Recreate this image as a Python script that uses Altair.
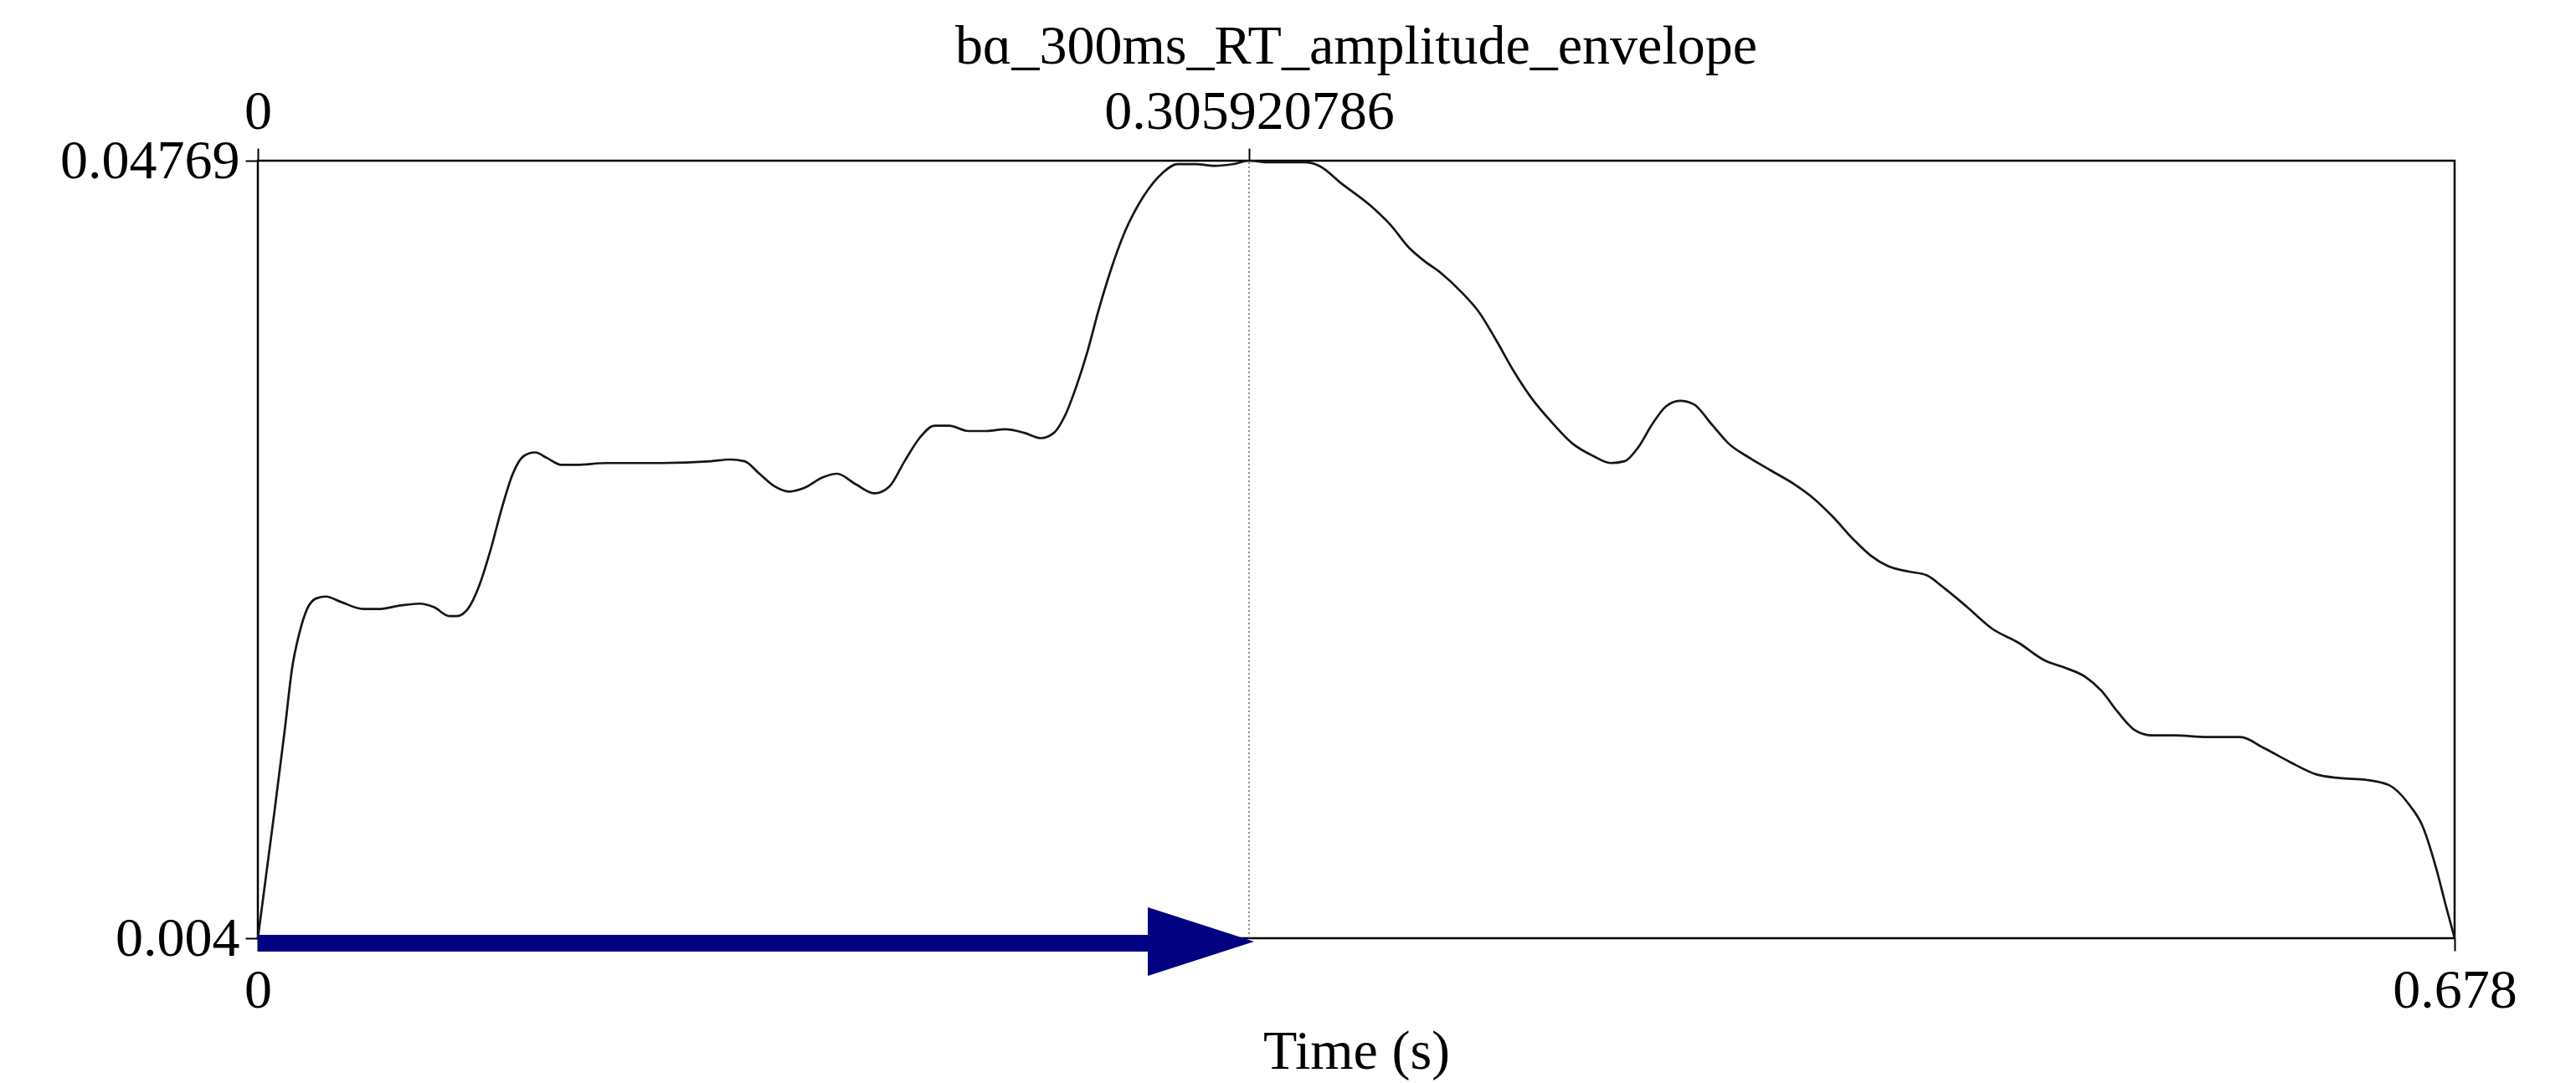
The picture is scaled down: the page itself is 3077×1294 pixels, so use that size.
import altair as alt
import pandas as pd

TITLE = "bɑ_300ms_RT_amplitude_envelope"
X_TITLE = "Time (s)"
x_min, x_max = 0.0, 0.678
y_min, y_max = 0.004, 0.04769
peak_time = 0.305920786
shaft_end = 0.275

times = [0.0, 0.0049, 0.0083, 0.0106, 0.0129, 0.0152, 0.0181, 0.0210, 0.0256, 0.0325,
         0.0372, 0.0441, 0.0498, 0.0544, 0.0591, 0.0614, 0.0648, 0.0683, 0.0718, 0.0752,
         0.0787, 0.0821, 0.0856, 0.0891, 0.0937, 0.0983, 0.1075, 0.1248, 0.1398, 0.1456,
         0.1502, 0.1548, 0.1594, 0.1640, 0.1686, 0.1744, 0.1788, 0.1846, 0.1903, 0.1950,
         0.1996, 0.2042, 0.2088, 0.2134, 0.2192, 0.2250, 0.2307, 0.2365, 0.2417, 0.2457,
         0.2492, 0.2526, 0.2561, 0.2595, 0.2630, 0.2676, 0.2734, 0.2792, 0.2838, 0.2895,
         0.2953, 0.3011, 0.3059, 0.3115, 0.3172, 0.3230, 0.3276, 0.3345, 0.3438, 0.3495,
         0.3553, 0.3597, 0.3650, 0.3715, 0.3768, 0.3822, 0.3875, 0.3929, 0.3993, 0.4057,
         0.4121, 0.4175, 0.4218, 0.4261, 0.4304, 0.4347, 0.4389, 0.4432, 0.4486, 0.4539,
         0.4603, 0.4668, 0.4743, 0.4796, 0.4860, 0.4925, 0.4978, 0.5032, 0.5096, 0.5150,
         0.5203, 0.5276, 0.5352, 0.5434, 0.5516, 0.5577, 0.5639, 0.5690, 0.5741, 0.5792,
         0.5843, 0.5914, 0.6017, 0.6119, 0.6190, 0.6272, 0.6354, 0.6425, 0.6507, 0.6578,
         0.6640, 0.6681, 0.6722, 0.6752, 0.678]

amps = [0.0040, 0.0108, 0.0157, 0.0192, 0.0212, 0.0225, 0.0231, 0.0232, 0.0229, 0.0225,
        0.0225, 0.0227, 0.0228, 0.0226, 0.0221, 0.0221, 0.0225, 0.0238, 0.0258, 0.0281,
        0.0301, 0.0311, 0.0313, 0.0310, 0.0306, 0.0306, 0.0307, 0.0307, 0.0308, 0.0309,
        0.0308, 0.0301, 0.0294, 0.0291, 0.0293, 0.0299, 0.0301, 0.0295, 0.0290, 0.0294,
        0.0308, 0.0321, 0.0328, 0.0328, 0.0325, 0.0325, 0.0326, 0.0324, 0.0321, 0.0324,
        0.0334, 0.0350, 0.0370, 0.0393, 0.0414, 0.0437, 0.0457, 0.0470, 0.0475, 0.0475,
        0.0474, 0.0475, 0.04769, 0.0476, 0.0476, 0.0476, 0.0474, 0.0464, 0.0451, 0.0441,
        0.0428, 0.0421, 0.0414, 0.0403, 0.0392, 0.0376, 0.0359, 0.0344, 0.0330, 0.0318,
        0.0311, 0.0307, 0.0308, 0.0316, 0.0329, 0.0339, 0.0342, 0.0340, 0.0329, 0.0318,
        0.0310, 0.0303, 0.0295, 0.0288, 0.0277, 0.0264, 0.0255, 0.0249, 0.0246, 0.0244,
        0.0237, 0.0226, 0.0214, 0.0206, 0.0196, 0.0192, 0.0187, 0.0179, 0.0167, 0.0157,
        0.0154, 0.0154, 0.0153, 0.0153, 0.0147, 0.0139, 0.0132, 0.0130, 0.0129, 0.0126,
        0.0115, 0.0103, 0.0080, 0.0059, 0.0040]

bottom_ticks = [x_min, x_max]
top_ticks = [x_min, peak_time]
left_ticks = [y_min, y_max]

curve_df = pd.DataFrame({"t": times, "a": amps})
marker_df = pd.DataFrame({"t": [peak_time], "a": [y_min], "a1": [y_max]})
shaft_df = pd.DataFrame({"t": [x_min, shaft_end], "a": [y_min, y_min]})
head_df = pd.DataFrame({"t": [peak_time], "a": [y_min]})

FONT = "Liberation Serif"
xscale = alt.Scale(domain=[x_min, x_max], nice=False, zero=False)
yscale = alt.Scale(domain=[y_min, y_max], nice=False, zero=False)

common_axis = dict(
    domain=False, grid=False, ticks=True, tickSize=15, tickWidth=2, tickColor="black",
    labelFont=FONT, labelFontSize=66, labelColor="black", labelLimit=2000,
    labelExpr="'' + datum.value", labelOverlap=False, labelFlush=False,
)

y_axis = alt.Axis(orient="left", values=left_ticks, title="", labelPadding=7, **common_axis)


def yenc():
    return alt.Y("a:Q", scale=yscale, axis=y_axis)


curve = alt.Chart(curve_df).mark_line(
    color="#161616", strokeWidth=2.7, interpolate="monotone"
).encode(
    x=alt.X("t:Q", scale=xscale, axis=alt.Axis(
        orient="bottom", values=bottom_ticks, title=X_TITLE, titleFont=FONT,
        titleFontSize=66, titleFontWeight="normal", titleColor="black",
        titleBaseline="alphabetic", titleY=155, labelPadding=15, **common_axis)),
    y=yenc(),
)

marker = alt.Chart(marker_df).mark_rule(
    color="#666666", strokeWidth=1.5, strokeDash=[2, 3]
).encode(
    x=alt.X("t:Q", scale=xscale, axis=alt.Axis(
        orient="top", values=top_ticks, title="", labelPadding=10, **common_axis)),
    y=yenc(),
    y2="a1:Q",
)

shaft = alt.Chart(shaft_df).mark_line(
    color="#000080", strokeWidth=20, strokeCap="butt", yOffset=6
).encode(
    x=alt.X("t:Q", scale=xscale, axis=None),
    y=yenc(),
)

head = alt.Chart(head_df).mark_point(
    shape="M -2 -0.646 L 0 0 L -2 0.646 Z", filled=True, fill="#000080",
    color="#000080", opacity=1, size=16129, strokeWidth=0, yOffset=4, xOffset=6
).encode(
    x=alt.X("t:Q", scale=xscale, axis=None),
    y=yenc(),
)

chart = alt.layer(curve, marker, shaft, head).resolve_axis(x="independent").properties(
    width=2624, height=929,
    title=alt.Title(TITLE, font=FONT, fontSize=66, fontWeight="normal", color="black",
                    anchor="middle", baseline="alphabetic", offset=-42),
    autosize=alt.AutoSizeParams(type="none"),
    padding={"left": 300, "top": 184, "right": 120, "bottom": 170},
    background="white",
).configure_view(stroke="black", strokeWidth=2.5)

chart.save("out.html", embed_options={"renderer": "svg", "actions": False})
